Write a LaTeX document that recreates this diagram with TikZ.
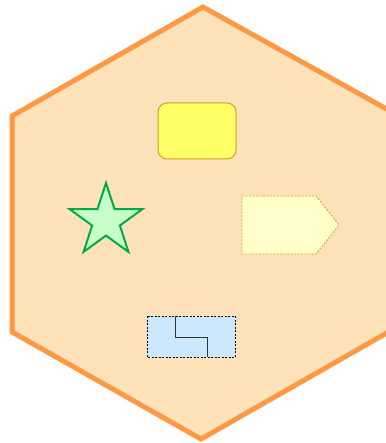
\documentclass[tikz,border=0pt]{standalone}
\usetikzlibrary{shapes.geometric}
\definecolor{hexfill}{HTML}{FFE1BA}
\definecolor{hexline}{HTML}{FF9944}
\definecolor{yel}{HTML}{FFFF66}
\definecolor{gold}{HTML}{D4A017}
\definecolor{starfill}{HTML}{C8FFC8}
\definecolor{starline}{HTML}{00AA44}
\definecolor{lightyel}{HTML}{FFFFCC}
\definecolor{lightblue}{HTML}{CCE8FF}
\tikzset{
  hexbox/.style={fill=hexfill,draw=hexline,line width=5pt,line join=miter},
  roundbox/.style={fill=yel,draw=gold,line width=1pt,rounded corners=9pt},
  starbox/.style={fill=starfill,draw=starline,line width=2pt,line join=miter},
  tagbox/.style={fill=lightyel,draw=gold,line width=0.8pt,dash pattern=on 2pt off 1.5pt},
  bluebox/.style={fill=lightblue,draw=black,line width=0.8pt,dash pattern=on 2pt off 1.5pt},
  zline/.style={draw=black!80,line width=1pt}
}
\begin{document}
\begin{tikzpicture}[x=1pt,y=-1pt]
\useasboundingbox (0,0) rectangle (385,443);
\draw[hexbox] (203,7) -- (12,116) -- (12,332) -- (201,439) -- (392,330) -- (392,112) -- cycle;
\draw[roundbox] (158,103) rectangle (236,159);
\draw[starbox] (106,183)
  \foreach \i in {1,...,9} {
    -- ({106+(mod(\i,2)==0 ? 38.1 : 14.6)*sin(36*\i)}, {221-(mod(\i,2)==0 ? 38.1 : 14.6)*cos(36*\i)})
  } -- cycle;
\draw[tagbox] (242,196) -- (316,196) -- (339,225) -- (316,254) -- (242,254) -- cycle;
\draw[bluebox] (147,316) rectangle (235,357);
\draw[zline] (175,316) -- (175,337) -- (207,337) -- (207,357);
\end{tikzpicture}
\end{document}
